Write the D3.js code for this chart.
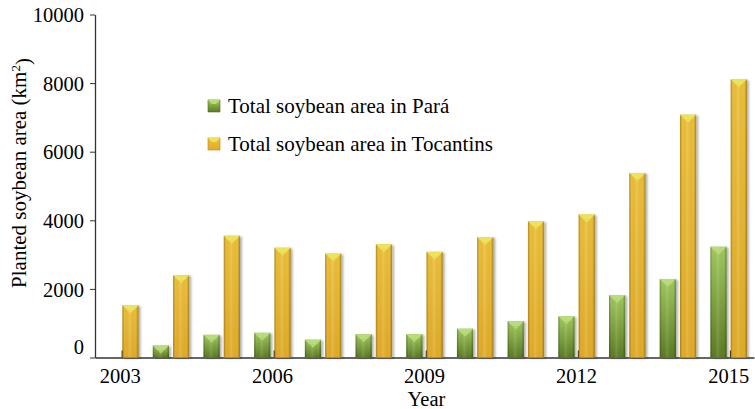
<!DOCTYPE html>
<html><head><meta charset="utf-8">
<script src="https://cdn.jsdelivr.net/npm/d3@7"></script>
<style>body{margin:0;background:#fff}svg{display:block}text{font-family:"Liberation Serif","Times New Roman",serif;fill:#000}</style>
</head><body>
<svg id="c" width="755" height="409"></svg>
<script>
const years = [2003,2004,2005,2006,2007,2008,2009,2010,2011,2012,2013,2014,2015];
const para = [0,350,660,720,520,680,680,840,1060,1200,1820,2290,3230];
const tocantins = [1520,2400,3550,3200,3030,3300,3080,3510,3970,4170,5380,7080,8110];
const seriesNames = ["Total soybean area in Pará","Total soybean area in Tocantins"];
const yTicks = [0,2000,4000,6000,8000,10000];
const xTickYears = [2003,2006,2009,2012,2015];

const svg = d3.select("#c");
const L = 95, R = 754, T = 14.5, B = 357.5;
const x = d3.scaleBand().domain(years).range([L,R]).paddingInner(0.28).paddingOuter(0.14);
const xs = d3.scaleBand().domain([0,1]).range([0,x.bandwidth()]).paddingInner(0.2);
const y = d3.scaleLinear().domain([0,10000]).range([B,T]);

const defs = svg.append("defs");
const pal = [
  {id:"g", top:"#a2cb5e", bot:"#5b7b22", edge:"#4f6d1c", bevel:"#b8dc7c"},
  {id:"o", top:"#edc03a", bot:"#e2ac28", edge:"#b8841a", bevel:"#ece35c"}
];
pal.forEach(p=>{
  const gv = defs.append("linearGradient").attr("id",p.id+"v").attr("x1",0).attr("x2",0).attr("y1",0).attr("y2",1);
  gv.append("stop").attr("offset","0%").attr("stop-color",p.top);
  gv.append("stop").attr("offset","100%").attr("stop-color",p.bot);
});
const gh = defs.append("linearGradient").attr("id","hshade").attr("x1",0).attr("x2",1).attr("y1",0).attr("y2",0);
gh.append("stop").attr("offset","0%").attr("stop-color","#000").attr("stop-opacity",0.28);
gh.append("stop").attr("offset","14%").attr("stop-color","#000").attr("stop-opacity",0.0);
gh.append("stop").attr("offset","45%").attr("stop-color","#fff").attr("stop-opacity",0.12);
gh.append("stop").attr("offset","84%").attr("stop-color","#000").attr("stop-opacity",0.0);
gh.append("stop").attr("offset","100%").attr("stop-color","#000").attr("stop-opacity",0.32);
const f = defs.append("filter").attr("id","sh").attr("x","-20%").attr("y","-5%").attr("width","150%").attr("height","115%");
f.append("feDropShadow").attr("dx",2).attr("dy",1).attr("stdDeviation",1.2).attr("flood-color","#000").attr("flood-opacity",0.3);

// axes
const yAxis = svg.append("g").attr("transform",`translate(${L},0)`)
  .call(d3.axisLeft(y).tickValues(yTicks).tickSize(5).tickSizeOuter(0).tickPadding(6).tickFormat(d3.format("d")));
yAxis.select(".domain").attr("stroke","#333").attr("stroke-width",1.3);
yAxis.selectAll(".tick line").attr("stroke","#333");
yAxis.selectAll(".tick text").style("font-size","20.5px").attr("dy","0.35em");
yAxis.selectAll(".tick text").filter(d=>d===0).attr("dy","-0.2em");

const xAxis = svg.append("g").attr("transform",`translate(0,${B})`)
  .call(d3.axisBottom(x).tickValues(xTickYears).tickSize(-7).tickSizeOuter(0).tickPadding(11));
xAxis.select(".domain").attr("stroke","#333").attr("stroke-width",1.3);
xAxis.selectAll(".tick line").attr("stroke","#111").attr("stroke-width",1.5).attr("transform","translate(2,0)");
xAxis.selectAll(".tick text").style("font-size","20.5px");

// bars
const data = years.map((yr,i)=>({yr, vals:[para[i],tocantins[i]]}));
const grp = svg.append("g").selectAll("g").data(data).join("g")
  .attr("transform",d=>`translate(${x(d.yr)},0)`);
grp.selectAll("g.bar").data(d=>d.vals.map((v,k)=>({v,k}))).join("g").attr("class","bar")
  .filter(d=>d.v>0)
  .each(function(d){
    const g = d3.select(this);
    const p = pal[d.k];
    const bx = xs(d.k), bw = xs.bandwidth(), top = y(d.v), h = B - top;
    g.append("rect").attr("x",bx).attr("y",top).attr("width",bw).attr("height",h)
      .attr("fill",`url(#${p.id}v)`).attr("filter","url(#sh)");
    g.append("rect").attr("x",bx).attr("y",top).attr("width",bw).attr("height",h)
      .attr("fill","url(#hshade)");
    const bv = Math.min(5, h/2);
    g.append("path").attr("d",`M${bx},${top}L${bx+bw},${top}L${bx+bw-bv},${top+bv}L${bx+bv},${top+bv}Z`)
      .attr("fill",p.bevel);
    g.append("path").attr("d",`M${bx+bv},${top+bv}L${bx+bw-bv},${top+bv}L${bx+bw/2},${top+bv+3}Z`)
      .attr("fill",p.bevel).attr("opacity",0.8);
  });

// legend
const lg = svg.append("g");
seriesNames.forEach((n,i)=>{
  const p = pal[i];
  const yy = 106 + i*38;
  lg.append("rect").attr("x",208).attr("y",yy-6).attr("width",12).attr("height",12)
    .attr("fill",`url(#${p.id}v)`).attr("stroke",p.edge).attr("stroke-width",0.6);
  lg.append("path").attr("d",`M208,${yy-6}L220,${yy-6}L216,${yy-2}L212,${yy-2}Z`).attr("fill",p.bevel);
  lg.append("text").attr("x",228).attr("y",yy).attr("dy","0.35em").style("font-size","21px").text(n);
});

// axis titles
const yt = svg.append("text").attr("transform","translate(26,173) rotate(-90)").attr("text-anchor","middle").style("font-size","21px");
yt.append("tspan").text("Planted soybean area (km");
yt.append("tspan").attr("dy","-0.45em").style("font-size","13px").text("2");
yt.append("tspan").attr("dy","0.45em").text(")");
svg.append("text").attr("x",(L+R)/2 + 2).attr("y",406).attr("text-anchor","middle").style("font-size","20.5px").text("Year");
</script>
</body></html>
